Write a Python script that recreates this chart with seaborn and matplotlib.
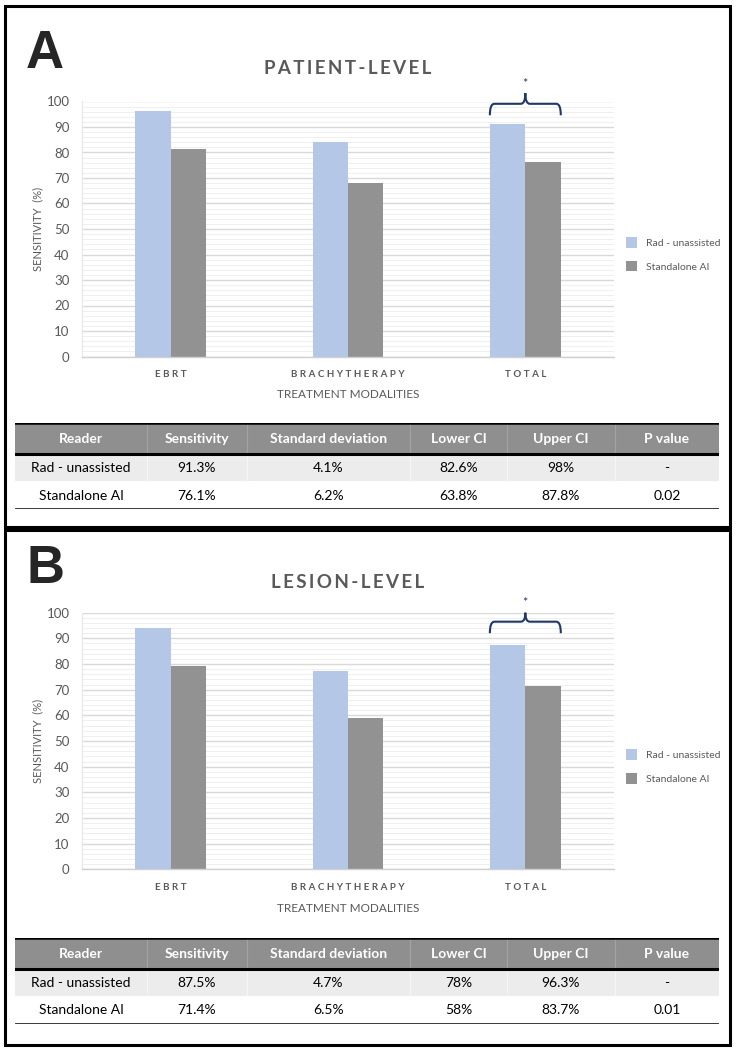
import numpy as np
import pandas as pd
import matplotlib
matplotlib.use("Agg")
import matplotlib.pyplot as plt
import seaborn as sns
from matplotlib.patches import Rectangle, PathPatch
from matplotlib.path import Path
from matplotlib.ticker import MultipleLocator

# ---------------- data ----------------
modalities = ["EBRT", "BRACHYTHERAPY", "TOTAL"]
readers = ["Rad - unassisted", "Standalone AI"]

patient_rad = [96.3, 84.0, 91.3]
patient_ai = [81.2, 68.1, 76.1]
lesion_rad = [94.0, 77.3, 87.5]
lesion_ai = [79.2, 59.0, 71.4]

panel_letters = ["A", "B"]
panel_titles = ["PATIENT-LEVEL", "LESION-LEVEL"]
y_label = "SENSITIVITY  (%)"
x_label = "TREATMENT MODALITIES"
y_ticks = [0, 10, 20, 30, 40, 50, 60, 70, 80, 90, 100]

table_columns = ["Reader", "Sensitivity", "Standard deviation", "Lower CI", "Upper CI", "P value"]
patient_table = [
    ["Rad - unassisted", "91.3%", "4.1%", "82.6%", "98%", "-"],
    ["Standalone AI", "76.1%", "6.2%", "63.8%", "87.8%", "0.02"],
]
lesion_table = [
    ["Rad - unassisted", "87.5%", "4.7%", "78%", "96.3%", "-"],
    ["Standalone AI", "71.4%", "6.5%", "58%", "83.7%", "0.01"],
]

# ---------------- style ----------------
sns.set_style("white")
plt.rcParams["font.family"] = ["Lato", "DejaVu Sans"]

COL_RAD = "#b4c7e7"
COL_AI = "#929292"
TXT = "#595959"
NAVY = "#203864"

W, H = 737, 1050
fig = plt.figure(figsize=(W / 100, H / 100), dpi=100)


def fx(px):
    return px / W


def fy(py):
    return 1 - py / H


def spaced(s, sep="\u2009"):
    return sep.join(list(s))


def draw_panel(off, ax_top, ax_bot, letter, title, rad, ai, table_rows,
               brace_y, border):
    # panel border
    bx0, by0, bx1, by1 = border
    fig.patches.append(Rectangle((fx(bx0), fy(by1)), fx(bx1) - fx(bx0), fy(by0) - fy(by1),
                                 transform=fig.transFigure, fill=False,
                                 edgecolor="black", lw=2.2, zorder=10))
    # panel letter
    fig.text(fx(26), fy(68 + off), letter, fontsize=38, fontweight="bold",
             family=["Liberation Sans", "DejaVu Sans"], ha="left", va="baseline")
    # title
    ax_left, ax_right = 82, 614
    cx = (ax_left + ax_right) / 2
    fig.text(fx(cx), fy(68 + off), spaced(title), fontsize=13.5, fontweight="bold",
             color=TXT, ha="center", va="center")

    ax = fig.add_axes([fx(ax_left), fy(ax_bot), fx(ax_right) - fx(ax_left), fy(ax_top) - fy(ax_bot)])
    df = pd.DataFrame({
        "modality": modalities * 2,
        "sens": list(rad) + list(ai),
        "reader": [readers[0]] * len(modalities) + [readers[1]] * len(modalities),
    })
    sns.barplot(data=df, x="modality", y="sens", hue="reader", order=modalities,
                hue_order=readers, palette=[COL_RAD, COL_AI], width=0.4,
                ax=ax, saturation=1, linewidth=0, errorbar=None)
    ax.set_ylim(0, 100)
    ax.set_xlim(-0.5, len(modalities) - 0.5)
    ax.set_yticks(y_ticks)
    ax.yaxis.set_minor_locator(MultipleLocator(2))
    ax.set_axisbelow(True)
    ax.grid(which="major", axis="y", color="#d9d9d9", lw=1.0)
    ax.grid(which="minor", axis="y", color="#efefef", lw=0.7)
    ax.tick_params(axis="y", which="both", length=0, pad=9, labelsize=9.5, labelcolor=TXT)
    ax.tick_params(axis="x", length=0, pad=10)
    ax.set_xticks(range(len(modalities)))
    ax.set_xticklabels([spaced(m, "\u2009\u2009") for m in modalities], fontsize=7,
                       fontweight="bold", color=TXT)
    for s in ["top", "right"]:
        ax.spines[s].set_visible(False)
    ax.spines["bottom"].set_color("#d0d0d0")
    ax.spines["bottom"].set_linewidth(1.0)
    ax.spines["left"].set_color("#e6e6e6")
    ax.spines["left"].set_linewidth(0.8)
    ax.set_xlabel("")
    ax.set_ylabel(y_label, fontsize=8, color=TXT, labelpad=2)

    fig.text(fx(cx), fy(394 + off), x_label, fontsize=8.5, color=TXT, ha="center", va="center")

    # legend
    handles, labels = ax.get_legend_handles_labels()
    ax.legend(handles, labels, loc="center left", bbox_to_anchor=(1.023, 0.40),
              frameon=False, fontsize=7.5, labelcolor=TXT, handlelength=1.05,
              handleheight=1.15, handletextpad=0.8, labelspacing=1.25,
              borderpad=0, borderaxespad=0)

    # significance brace over the last category
    y_end, y_mid, y_peak, y_star = brace_y
    xc = len(modalities) - 1
    xl, xr = xc - 0.2, xc + 0.2
    r = 0.025
    verts = [
        (xl, y_end), (xl, y_mid), (xl + r, y_mid), (xc - r, y_mid), (xc, y_mid), (xc, y_peak),
        (xc, y_mid), (xc + r, y_mid), (xr - r, y_mid), (xr, y_mid), (xr, y_end),
    ]
    codes = [Path.MOVETO, Path.CURVE3, Path.CURVE3, Path.LINETO, Path.CURVE3, Path.CURVE3,
             Path.CURVE3, Path.CURVE3, Path.LINETO, Path.CURVE3, Path.CURVE3]
    ax.add_patch(PathPatch(Path(verts, codes), fill=False, edgecolor=NAVY, lw=1.5,
                           clip_on=False, zorder=5))
    ax.text(xc, y_star, "*", fontsize=9, color=NAVY, ha="center", va="center", clip_on=False)

    # ---------------- table ----------------
    tx0, tx1 = 15, 719
    ty0, ty1 = 423 + off, 509 + off
    tax = fig.add_axes([fx(tx0), fy(ty1), fx(tx1) - fx(tx0), fy(ty0) - fy(ty1)])
    tw, th = tx1 - tx0, ty1 - ty0
    tax.set_xlim(0, tw)
    tax.set_ylim(th, 0)
    tax.axis("off")
    edges = [0, 132, 232, 395, 492, 600, tw]
    rows_y = [0, 31, 58, th]
    tax.add_patch(Rectangle((0, rows_y[0]), tw, rows_y[1] - rows_y[0], facecolor="#8f8f8f", lw=0))
    tax.add_patch(Rectangle((0, rows_y[1]), tw, rows_y[2] - rows_y[1], facecolor="#ececec", lw=0))
    for e in edges[1:-1]:
        tax.plot([e, e], [rows_y[0], rows_y[1]], color="#a3a3a3", lw=0.8)
        tax.plot([e, e], [rows_y[1], rows_y[2]], color="#f6f6f6", lw=0.8)
    tax.axhline(rows_y[0], color="black", lw=1.8)
    tax.axhline(rows_y[1], color="black", lw=2.2)
    tax.axhline(th, color="black", lw=1.8)
    centers = [(edges[i] + edges[i + 1]) / 2 for i in range(len(table_columns))]
    for c, name in zip(centers, table_columns):
        tax.text(c, (rows_y[0] + rows_y[1]) / 2 + 0.5, name, fontsize=10, fontweight="bold",
                 color="white", ha="center", va="center")
    for ri, row in enumerate(table_rows):
        yc = (rows_y[ri + 1] + rows_y[ri + 2]) / 2 + 0.5
        for c, val in zip(centers, row):
            tax.text(c, yc, val, fontsize=10, color="black", ha="center", va="center")


draw_panel(0, 101.5, 356.5, panel_letters[0], panel_titles[0], patient_rad, patient_ai,
           patient_table, (94.6, 99.1, 103.3, 107.0), (5, 6, 730, 527))
draw_panel(515, 612.7, 869.3, panel_letters[1], panel_titles[1], lesion_rad, lesion_ai,
           lesion_table, (92.0, 96.5, 100.0, 103.8), (5, 530, 730, 1045))

fig.savefig("out.png", dpi=100)
